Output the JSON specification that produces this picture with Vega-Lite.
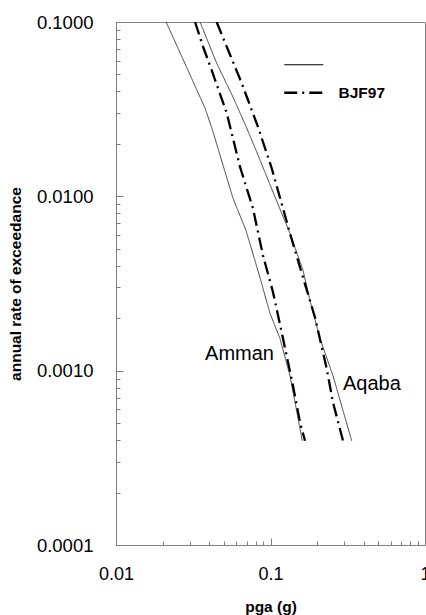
{
  "$schema": "https://vega.github.io/schema/vega-lite/v6.json",
  "width": 309,
  "height": 523,
  "autosize": {"type": "none"},
  "padding": {"left": 116, "top": 22, "right": 1, "bottom": 70},
  "background": "white",
  "config": {
    "view": {"stroke": "#808080", "strokeWidth": 1},
    "font": "Liberation Sans"
  },
  "datasets": {
    "curves": [
      {"site": "Amman", "model": "PSHA", "pga": 0.0211, "rate": 0.1},
      {"site": "Amman", "model": "PSHA", "pga": 0.0273, "rate": 0.0605},
      {"site": "Amman", "model": "PSHA", "pga": 0.035, "rate": 0.0371},
      {"site": "Amman", "model": "PSHA", "pga": 0.0377, "rate": 0.0321},
      {"site": "Amman", "model": "PSHA", "pga": 0.0416, "rate": 0.0248},
      {"site": "Amman", "model": "PSHA", "pga": 0.0437, "rate": 0.0215},
      {"site": "Amman", "model": "PSHA", "pga": 0.0493, "rate": 0.01507},
      {"site": "Amman", "model": "PSHA", "pga": 0.0572, "rate": 0.00974},
      {"site": "Amman", "model": "PSHA", "pga": 0.0694, "rate": 0.00638},
      {"site": "Amman", "model": "PSHA", "pga": 0.0855, "rate": 0.00342},
      {"site": "Amman", "model": "PSHA", "pga": 0.0993, "rate": 0.00213},
      {"site": "Amman", "model": "PSHA", "pga": 0.1152, "rate": 0.00153},
      {"site": "Amman", "model": "PSHA", "pga": 0.1337, "rate": 0.000936},
      {"site": "Amman", "model": "PSHA", "pga": 0.1606, "rate": 0.000396},
      {"site": "Amman", "model": "BJF97", "pga": 0.0325, "rate": 0.1},
      {"site": "Amman", "model": "BJF97", "pga": 0.0366, "rate": 0.0721},
      {"site": "Amman", "model": "BJF97", "pga": 0.0416, "rate": 0.053},
      {"site": "Amman", "model": "BJF97", "pga": 0.0521, "rate": 0.03},
      {"site": "Amman", "model": "BJF97", "pga": 0.0635, "rate": 0.01474},
      {"site": "Amman", "model": "BJF97", "pga": 0.077, "rate": 0.00853},
      {"site": "Amman", "model": "BJF97", "pga": 0.0894, "rate": 0.00458},
      {"site": "Amman", "model": "BJF97", "pga": 0.1038, "rate": 0.00282},
      {"site": "Amman", "model": "BJF97", "pga": 0.1205, "rate": 0.00153},
      {"site": "Amman", "model": "BJF97", "pga": 0.1398, "rate": 0.00082},
      {"site": "Amman", "model": "BJF97", "pga": 0.1553, "rate": 0.000505},
      {"site": "Amman", "model": "BJF97", "pga": 0.1673, "rate": 0.000396},
      {"site": "Aqaba", "model": "PSHA", "pga": 0.035, "rate": 0.1},
      {"site": "Aqaba", "model": "PSHA", "pga": 0.0448, "rate": 0.0581},
      {"site": "Aqaba", "model": "PSHA", "pga": 0.0572, "rate": 0.0371},
      {"site": "Aqaba", "model": "PSHA", "pga": 0.0702, "rate": 0.0246},
      {"site": "Aqaba", "model": "PSHA", "pga": 0.0814, "rate": 0.018},
      {"site": "Aqaba", "model": "PSHA", "pga": 0.1038, "rate": 0.01059},
      {"site": "Aqaba", "model": "PSHA", "pga": 0.1337, "rate": 0.00613},
      {"site": "Aqaba", "model": "PSHA", "pga": 0.1624, "rate": 0.00376},
      {"site": "Aqaba", "model": "PSHA", "pga": 0.1803, "rate": 0.00252},
      {"site": "Aqaba", "model": "PSHA", "pga": 0.2091, "rate": 0.00153},
      {"site": "Aqaba", "model": "PSHA", "pga": 0.2538, "rate": 0.000936},
      {"site": "Aqaba", "model": "PSHA", "pga": 0.3354, "rate": 0.000396},
      {"site": "Aqaba", "model": "BJF97", "pga": 0.0448, "rate": 0.1},
      {"site": "Aqaba", "model": "BJF97", "pga": 0.0521, "rate": 0.0721},
      {"site": "Aqaba", "model": "BJF97", "pga": 0.0651, "rate": 0.0446},
      {"site": "Aqaba", "model": "BJF97", "pga": 0.083, "rate": 0.025},
      {"site": "Aqaba", "model": "BJF97", "pga": 0.1018, "rate": 0.01449},
      {"site": "Aqaba", "model": "BJF97", "pga": 0.1205, "rate": 0.00853},
      {"site": "Aqaba", "model": "BJF97", "pga": 0.1337, "rate": 0.00613},
      {"site": "Aqaba", "model": "BJF97", "pga": 0.1624, "rate": 0.00342},
      {"site": "Aqaba", "model": "BJF97", "pga": 0.1941, "rate": 0.00202},
      {"site": "Aqaba", "model": "BJF97", "pga": 0.2311, "rate": 0.001027},
      {"site": "Aqaba", "model": "BJF97", "pga": 0.2538, "rate": 0.000657},
      {"site": "Aqaba", "model": "BJF97", "pga": 0.2946, "rate": 0.000396}
    ],
    "labels": [
      {"label": "Amman", "pga": 0.0377, "rate": 0.001252},
      {"label": "Aqaba", "pga": 0.2946, "rate": 0.000842}
    ]
  },
  "layer": [
    {
      "data": {"name": "curves"},
      "mark": {"type": "line", "clip": true},
      "encoding": {
        "x": {
          "field": "pga",
          "type": "quantitative",
          "scale": {"type": "log", "domain": [0.01, 1], "nice": false},
          "axis": {
            "title": "pga (g)",
            "values": [0.01, 0.02, 0.03, 0.04, 0.05, 0.06, 0.07, 0.08, 0.09, 0.1, 0.2, 0.3, 0.4, 0.5, 0.6, 0.7, 0.8, 0.9, 1],
            "labelExpr": "abs(log(datum.value)/LN10 - round(log(datum.value)/LN10)) < 0.01 ? (datum.value < 0.05 ? '0.01' : (datum.value < 0.5 ? '0.1' : '1')) : ''",
            "tickSize": {"condition": {"test": "abs(log(datum.value)/LN10 - round(log(datum.value)/LN10)) < 0.01", "value": -7}, "value": -4},
            "labelPadding": 27,
            "labelFontSize": 18,
            "labelColor": "black",
            "labelOverlap": false,
            "labelFlush": false,
            "labelBound": false,
            "domainColor": "#808080",
            "tickColor": "#808080",
            "grid": false,
            "titleFontSize": 15.5,
            "titleFontWeight": "bold",
            "titleColor": "black",
            "titlePadding": 13
          }
        },
        "y": {
          "field": "rate",
          "type": "quantitative",
          "scale": {"type": "log", "domain": [0.0001, 0.1], "nice": false},
          "axis": {
            "title": "annual rate of exceedance",
            "values": [0.0001, 0.0002, 0.0003, 0.0004, 0.0005, 0.0006, 0.0007, 0.0008, 0.0009, 0.001, 0.002, 0.003, 0.004, 0.005, 0.006, 0.007, 0.008, 0.009, 0.01, 0.02, 0.03, 0.04, 0.05, 0.06, 0.07, 0.08, 0.09, 0.1],
            "labelExpr": "abs(log(datum.value)/LN10 - round(log(datum.value)/LN10)) < 0.01 ? format(datum.value, '.4f') : ''",
            "tickSize": {"condition": {"test": "abs(log(datum.value)/LN10 - round(log(datum.value)/LN10)) < 0.01", "value": -7}, "value": -4},
            "labelPadding": 30,
            "labelFontSize": 18.5,
            "labelColor": "black",
            "labelOverlap": false,
            "labelFlush": false,
            "labelBound": false,
            "domainColor": "#808080",
            "tickColor": "#808080",
            "grid": false,
            "titleFontSize": 15.5,
            "titleFontWeight": "bold",
            "titleColor": "black",
            "titlePadding": 13
          }
        },
        "detail": {"field": "site"},
        "strokeDash": {
          "field": "model",
          "type": "nominal",
          "scale": {"domain": ["PSHA", "BJF97"], "range": [[1, 0], [13, 5, 2, 5]]},
          "legend": {
            "orient": "none",
            "legendX": 180,
            "legendY": 35,
            "title": null,
            "symbolType": "stroke",
            "symbolSize": 1521,
            "symbolStrokeColor": "black",
            "labelExpr": "datum.label === 'BJF97' ? 'BJF97' : ''",
            "labelFontSize": 15.5,
            "labelFontWeight": "bold",
            "labelColor": "black",
            "labelOffset": 27,
            "rowPadding": 11,
            "padding": 0,
            "encode": {"symbols": {"update": {"strokeWidth": {"signal": "datum.value === 'BJF97' ? 2.3 : 1.2"}}}}
          }
        },
        "color": {"condition": {"test": "datum.model === 'BJF97'", "value": "#000000"}, "value": "#404040"},
        "strokeWidth": {"condition": {"test": "datum.model === 'BJF97'", "value": 2.3}, "value": 1}
      }
    },
    {
      "data": {"name": "labels"},
      "mark": {"type": "text", "fontSize": 20, "align": "left", "baseline": "middle", "color": "black"},
      "encoding": {
        "x": {"field": "pga", "type": "quantitative"},
        "y": {"field": "rate", "type": "quantitative"},
        "text": {"field": "label"}
      }
    }
  ]
}
